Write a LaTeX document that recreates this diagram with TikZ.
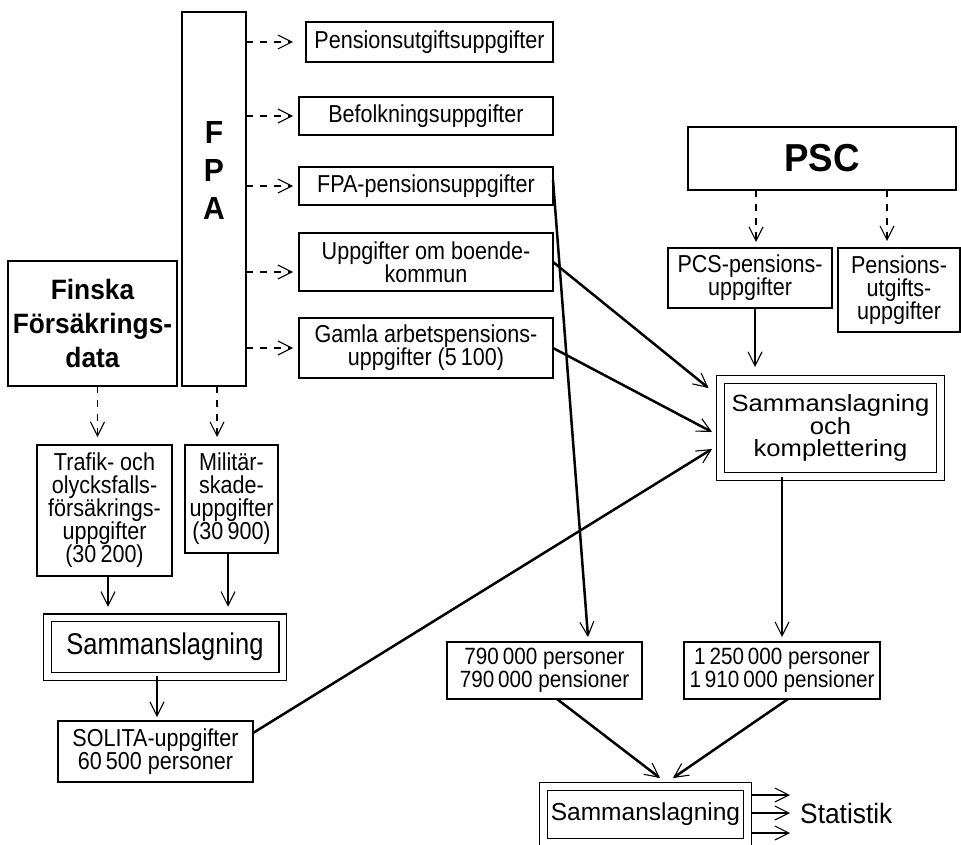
\documentclass[tikz,border=0pt]{standalone}
\usepackage{fontspec}
\setmainfont{Liberation Sans}
\newfontfamily\narrowfont{Liberation Sans}[FakeStretch=0.88]
\newfontfamily\condfont{Liberation Sans}[FakeStretch=0.85]
\newfontfamily\widefont{Liberation Sans}[FakeStretch=1.09]
\newfontfamily\headfont{Liberation Sans}[FakeStretch=0.94]
\usetikzlibrary{positioning}
\usetikzlibrary{arrows.meta,calc}
\tikzstyle{box}=[draw,line width=1.2pt,inner sep=0pt,outer sep=0pt,align=center,font=\narrowfont\fontsize{24.5}{23}\selectfont]
\tikzstyle{numbox}=[box,font=\narrowfont\fontsize{23.5}{23}\selectfont]
\tikzstyle{dbox}=[box,double,double distance=6.5pt,line width=1.1pt]
\tikzstyle{bigtext}=[align=center,inner sep=0pt]
\tikzstyle{edge}=[draw,line width=2.5pt,-{Straight Barb[length=14pt,width=14pt,line width=1.1pt]}]
\tikzstyle{dashededge}=[draw,line width=1.3pt,dash pattern=on 7pt off 7pt,-{Straight Barb[length=14pt,width=14pt,line width=1.1pt]}]

\begin{document}
\begin{tikzpicture}[x=1pt,y=-1pt]
    \useasboundingbox (0,0) rectangle (961,845);
    % Sources: FPA, Finska Försäkringsdata and PSC
    \node[box,minimum width=64pt,minimum height=374pt] (fpa) at (214,199) {};
    \node[bigtext,font=\headfont\fontsize{32}{38}\selectfont\bfseries] (fpatext) at (214,170) {F\\P\\A};
    \node[box,minimum width=169pt,minimum height=125pt,font=\headfont\fontsize{28}{34}\selectfont\bfseries] (finska) at (92.5,323.5) {Finska\\Försäkrings-\\data};
    \node[box,minimum width=268pt,minimum height=63pt,font=\headfont\fontsize{39}{40}\selectfont\bfseries] (psc) at (822,158.5) {PSC};

    % Data from FPA
    \foreach \pos/\name/\w/\h/\label in {{(429.5,42)/pu/247/40/Pensionsutgiftsuppgifter},
        {(426,116)/bef/254/38/Befolkningsuppgifter}, {(426,186)/fpap/254/38/FPA-pensionsuppgifter},
        {(426,262)/boende/254/58/{Uppgifter om boende-\\kommun}},
        {(426,348)/gamla/254/60/{Gamla arbetspensions-\\uppgifter (5\,100)}}}
        \node[box,minimum width=\w pt,minimum height=\h pt] (\name) at \pos {\label};

    % Data from PSC
    \node[box,minimum width=164pt,minimum height=60pt] (pcs) at (750,278) {PCS-pensions-\\uppgifter};
    \node[box,minimum width=122pt,minimum height=84pt] (putg) at (899,290) {Pensions-\\utgifts-\\uppgifter};
    \node[dbox,minimum width=220pt,minimum height=97pt,font=\widefont\fontsize{23.5}{22.5}\selectfont] (sk) at (830.5,428) {Sammanslagning\\och\\komplettering};

    % Left branch
    \node[box,minimum width=135pt,minimum height=131pt] (trafik) at (104.5,510.5) {Trafik- och\\olycksfalls-\\försäkrings-\\uppgifter\\(30\,200)};
    \node[box,minimum width=93pt,minimum height=108pt] (mil) at (231.5,499) {Militär-\\skade-\\uppgifter\\(30\,900)};
    \node[dbox,minimum width=235.5pt,minimum height=58.5pt,font=\condfont\fontsize{30}{30}\selectfont] (sl) at (165,647) {Sammanslagning};
    \node[box,minimum width=195pt,minimum height=61pt] (solita) at (155.5,751.5) {SOLITA-uppgifter\\60\,500 personer};

    % Results
    \node[numbox,minimum width=195pt,minimum height=57pt] (p790) at (544.5,670.5) {790\,000 personer\\790\,000 pensioner};
    \node[numbox,minimum width=196pt,minimum height=57pt] (p1250) at (782,670.5) {1\,250\,000 personer\\1\,910\,000 pensioner};
    \node[dbox,minimum width=204pt,minimum height=56pt,font=\fontsize{24.5}{26}\selectfont] (sb) at (645.5,814.5) {Sammanslagning};
    \node[inner sep=0pt,anchor=west,font=\headfont\fontsize{28}{28}\selectfont] (stat) at (800,813) {Statistik};

    % Dashed edges
    \foreach \dest/\dy in {pu/0, bef/0, fpap/0, boende/-10, gamla/0}
        {\path ([yshift=\dy pt]\dest.west) coordinate (t);
         \path[dashededge] (fpa.east |- t) -- ($(fpa.east |- t)+(47,0)$);}
    \path[dashededge,shorten >=8pt] ([xshift=5pt]finska.south) -- ([xshift=5pt]finska.south |- trafik.north);
    \path[dashededge,shorten >=8pt] ([xshift=3pt]fpa.south) -- ([xshift=3pt]fpa.south |- mil.north);
    \path[dashededge,shorten >=6pt] ([xshift=6pt]pcs.north |- psc.south) -- ([xshift=6pt]pcs.north);
    \path[dashededge,shorten >=7pt] ([xshift=-12pt]putg.north |- psc.south) -- ([xshift=-12pt]putg.north);

    % Solid edges
    \path[edge,shorten >=12.5pt] ([xshift=5pt]pcs.south) -- ([xshift=5pt]pcs.south |- sk.north);
    \path[edge] (boende.east) -- ($(sk.west)+(-12,-40)$);
    \path[edge] (gamla.east) -- ($(sk.west)+(-8.5,4)$);
    \path[edge] ([yshift=18.5pt]solita.east) -- ($(sk.west)+(-8.5,21)$);
    \path[edge] ([yshift=6pt]fpap.east) -- ($(p790.north)+(43.5,-5)$);
    \path[edge,shorten >=5pt] (p1250.north |- sk.south) -- (p1250.north);
    \path[edge,shorten >=11pt] ([xshift=3.5pt]trafik.south) -- ([xshift=3.5pt]trafik.south |- sl.north);
    \path[edge,shorten >=11pt] ([xshift=-3.5pt]mil.south) -- ([xshift=-3.5pt]mil.south |- sl.north);
    \path[edge,shorten >=4pt] ([xshift=-8pt]sl.south) -- ([xshift=-8pt]sl.south |- solita.north);
    \path[edge] ([xshift=12.5pt]p790.south) -- ($(sb.north)+(14.5,-8.5)$);
    \path[edge] ([xshift=6pt]p1250.south) -- ($(sb.north)+(27.5,-8.5)$);
    \foreach \dy in {18,0,-20}
        {\path ([yshift=\dy pt]stat.west) coordinate (s);
         \path[edge,shorten >=10pt] ([xshift=4.5pt]sb.east |- s) -- (s);}
\end{tikzpicture}
\end{document}
